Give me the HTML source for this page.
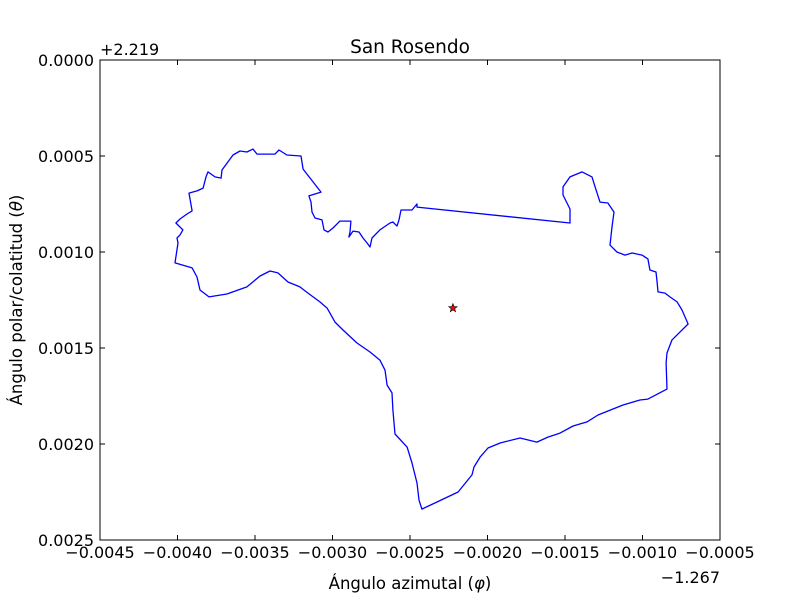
<!DOCTYPE html>
<html><head><meta charset="utf-8"><style>
body{margin:0;background:#fff}
svg text{font-family:"DejaVu Sans","Liberation Sans",sans-serif;fill:#000}
</style></head><body>
<svg id="chart" width="800" height="600" xmlns="http://www.w3.org/2000/svg">
<rect width="800" height="600" fill="#fff"/>
<text x="410" y="53" font-size="18.5" text-anchor="middle">San Rosendo</text>
<text x="100" y="55" font-size="16">+2.219</text>
<text x="720" y="583" font-size="16" text-anchor="end">−1.267</text>
<text x="410" y="589" font-size="16.5" text-anchor="middle">Ángulo azimutal (<tspan font-style="italic">φ</tspan>)</text>
<text transform="translate(22,300) rotate(-90)" font-size="16.5" text-anchor="middle">Ángulo polar/colatitud (<tspan font-style="italic">θ</tspan>)</text>
<g id="ticks"></g>
<g id="plot"></g>
<rect x="100" y="60" width="620" height="480" fill="none" stroke="#000" stroke-width="1"/>
</svg>
<script>
// data in units of 1e-4 (offsets +2.219 for theta, -1.267 for phi)
const phiE4=[-40.16,-39.97,-40.03,-39.84,-39.65,-40.10,-39.84,-39.39,-39.06,-39.26,-38.74,-38.35,-38.16,-38.03,-37.58,-37.19,-37.13,-36.42,-35.97,-35.52,-35.13,-34.87,-33.71,-33.45,-32.94,-32.03,-31.90,-30.74,-31.52,-31.39,-31.32,-31.13,-30.68,-30.55,-30.29,-29.97,-29.52,-28.81,-28.87,-28.94,-28.68,-28.29,-28.03,-27.77,-27.58,-27.45,-26.94,-26.29,-26.10,-25.84,-25.71,-25.58,-24.87,-24.55,-24.55,-14.68,-14.68,-15.13,-15.13,-14.68,-13.90,-13.26,-13.06,-12.74,-12.23,-11.84,-11.97,-12.10,-11.65,-11.13,-10.68,-10.03,-9.65,-9.52,-9.13,-9.06,-9.00,-8.55,-8.23,-7.77,-7.45,-7.06,-8.10,-8.42,-8.48,-8.42,-9.65,-10.16,-11.26,-12.87,-13.58,-14.48,-15.32,-16.10,-16.81,-17.90,-19.19,-19.97,-20.48,-20.87,-21.00,-21.90,-23.26,-24.23,-24.42,-24.55,-24.87,-25.19,-25.97,-26.10,-26.16,-26.48,-26.61,-26.94,-27.58,-28.42,-29.32,-29.84,-30.35,-30.81,-31.58,-32.10,-32.87,-33.52,-34.03,-34.68,-35.52,-36.81,-37.97,-38.55,-38.74,-39.06];
const thetaE4=[10.57,9.53,9.27,9.11,8.85,8.49,8.28,8.02,7.86,6.93,6.82,6.67,6.09,5.83,6.09,6.15,5.73,4.95,4.74,4.79,4.64,4.90,4.90,4.69,4.95,5.00,5.68,6.88,7.08,7.40,7.92,8.23,8.33,8.85,8.96,8.75,8.39,8.39,8.96,9.22,8.91,8.96,9.27,9.53,9.74,9.27,8.85,8.49,8.44,8.65,8.33,7.81,7.81,7.50,7.66,8.49,7.76,7.03,6.61,6.09,5.83,6.09,6.61,7.40,7.45,7.92,8.70,9.64,10.00,10.16,10.05,10.16,10.36,10.94,11.04,11.56,12.08,12.14,12.34,12.60,13.02,13.75,14.58,15.26,15.78,17.14,17.66,17.71,17.97,18.49,18.85,19.06,19.43,19.64,19.90,19.69,19.95,20.21,20.68,21.20,21.61,22.50,23.02,23.39,22.92,22.03,20.99,20.16,19.48,18.23,17.34,16.93,16.15,15.63,15.21,14.74,14.06,13.65,12.92,12.60,12.14,11.82,11.56,11.09,10.99,11.25,11.82,12.19,12.34,11.98,11.30,10.83];
const centroidPhiE4=[-22.23];
const centroidThetaE4=[12.92];
const xTicksE4=[-45,-40,-35,-30,-25,-20,-15,-10,-5];
const xTickLabels=["−0.0045","−0.0040","−0.0035","−0.0030","−0.0025","−0.0020","−0.0015","−0.0010","−0.0005"];
const yTicksE4=[0,5,10,15,20,25];
const yTickLabels=["0.0000","0.0005","0.0010","0.0015","0.0020","0.0025"];

const X0=100,X1=720,Y0=60,Y1=540,xmin=-45,xmax=-5,ymin=0,ymax=25;
const sx=v=>X0+(v-xmin)/(xmax-xmin)*(X1-X0);
const sy=v=>Y0+(v-ymin)/(ymax-ymin)*(Y1-Y0);
const NS="http://www.w3.org/2000/svg";
const tg=document.getElementById('ticks'),pg=document.getElementById('plot');
function mk(t,a,p){const e=document.createElementNS(NS,t);for(const k in a)e.setAttribute(k,a[k]);p.appendChild(e);return e;}
xTicksE4.forEach((v,i)=>{
  const x=sx(v);
  const t1=mk('line',{x1:x,x2:x,y1:Y1,y2:Y1-5,stroke:'#000'},tg);
  
  
  const t2=mk('line',{x1:x,x2:x,y1:Y0,y2:Y0+5,stroke:'#000'},tg);
  
  
  const l=mk('text',{x:x,y:Y1+18,'font-size':16,'text-anchor':'middle'},tg);
  l.textContent=xTickLabels[i];
  
  
});
yTicksE4.forEach((v,i)=>{
  const y=sy(v);
  const t1=mk('line',{x1:X0,x2:X0+5,y1:y,y2:y,stroke:'#000'},tg);
  
  
  const t2=mk('line',{x1:X1,x2:X1-5,y1:y,y2:y,stroke:'#000'},tg);
  
  
  const l=mk('text',{x:X0-6,y:y+6,'font-size':16,'text-anchor':'end'},tg);
  l.textContent=yTickLabels[i];
  
  
});
let d=phiE4.map((v,i)=>(i?'L':'M')+sx(v).toFixed(1)+','+sy(thetaE4[i]).toFixed(1)).join('')+'Z';
const outline=mk('path',{d:d,fill:'none',stroke:'#0000ff','stroke-width':1.3,'stroke-linejoin':'round'},pg);


centroidPhiE4.forEach((v,i)=>{
  const cx=sx(v),cy=sy(centroidThetaE4[i]),R=4.5,r=1.9;let pts=[];
  for(let k=0;k<10;k++){const a=-Math.PI/2+k*Math.PI/5,rr=k%2?r:R;pts.push((cx+rr*Math.cos(a)).toFixed(2)+','+(cy+rr*Math.sin(a)).toFixed(2));}
  const s=mk('polygon',{points:pts.join(' '),fill:'#ff0000',stroke:'#000','stroke-width':0.6},pg);
  
  
});
</script>
</body></html>
